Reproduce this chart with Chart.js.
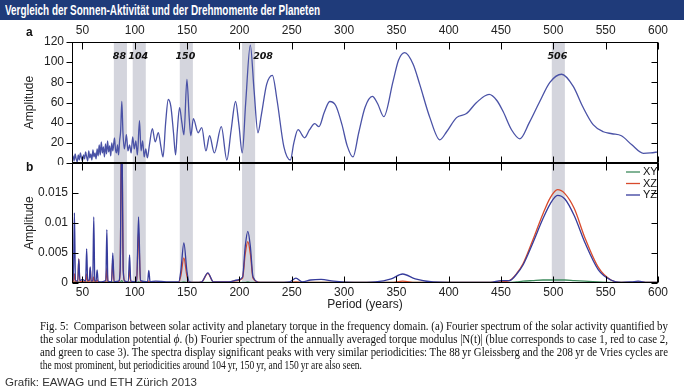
<!DOCTYPE html>
<html>
<head>
<meta charset="utf-8">
<script src="https://cdn.jsdelivr.net/npm/chart.js@4.4.1/dist/chart.umd.min.js"></script>
<style>
  body { margin:0; width:684px; height:390px; background:#fff; position:relative; overflow:hidden;
         font-family:"Liberation Sans", Arial, sans-serif; }
  #titlebar { position:absolute; left:0; top:0; width:684px; height:20px; background:#1f3b7a; }
  #title { position:absolute; left:5px; top:2px; color:#fff; font-weight:bold; font-size:14px;
           line-height:16px; white-space:nowrap; transform-origin:left top; }
  .wrap { position:absolute; left:0; }
  #wrapA { top:20px; }
  #wrapB { top:160px; }
  .plabel { position:absolute; left:26px; font-size:12px; font-weight:bold; color:#111; }
  .cap { position:absolute; left:40px; font-family:"Liberation Serif","Times New Roman",serif; font-size:11.5px;
         line-height:13px; white-space:nowrap; transform-origin:left top; color:#111; }
  #credit { position:absolute; left:5px; top:375px; font-size:11.5px; line-height:14px; color:#333;
            white-space:nowrap; transform-origin:left top; }
</style>
</head>
<body>
<div id="titlebar"><div id="title" class="fit" data-w="315">Vergleich der Sonnen-Aktivität und der Drehmomente der Planeten</div></div>
<div class="wrap" id="wrapA"><canvas id="chartA" width="684" height="145"></canvas></div>
<div class="wrap" id="wrapB"><canvas id="chartB" width="684" height="152"></canvas></div>
<div class="plabel" style="top:25px">a</div>
<div class="plabel" style="top:160px">b</div>
<div class="cap fit" data-w="628" style="top:320px">Fig. 5:&nbsp; Comparison between solar activity and planetary torque in the frequency domain. (a) Fourier spectrum of the solar activity quantified by</div>
<div class="cap fit" data-w="628" style="top:333px">the solar modulation potential <i>ϕ</i>. (b) Fourier spectrum of the annually averaged torque modulus |N(t)| (blue corresponds to case 1, red to case 2,</div>
<div class="cap fit" data-w="628" style="top:346px">and green to case 3). The spectra display significant peaks with very similar periodicities: The 88&thinsp;yr Gleissberg and the 208&thinsp;yr de Vries cycles are</div>
<div class="cap fit" data-w="322" style="top:359px">the most prominent, but periodicities around 104&thinsp;yr, 150&thinsp;yr, and 150&thinsp;yr are also seen.</div>
<div id="credit" class="fit" data-w="192">Grafik: EAWAG und ETH Zürich 2013</div>

<script>
// shared axis ticks
const periodTicks = [50, 100, 150, 200, 250, 300, 350, 400, 450, 500, 550, 600];
const ampTicksA = [0, 20, 40, 60, 80, 100, 120];
const ampTicksB = [0, 0.005, 0.01, 0.015, 0.02];
const ampLabelsB = ["0", "0.005", "0.01", "0.015", ""];

// highlighted periods (grey bands)
const bandLabels = ["88", "104", "150", "208", "506"];
const bandStart = [80, 98, 143, 202.5, 498.5];
const bandEnd = [92.5, 110.5, 155.5, 215, 511];

// (a) solar activity spectrum
const periodsA = [40, 41, 42, 43, 44, 45, 46, 47, 48, 49, 50, 51, 52, 53, 54, 55, 56, 57, 58, 59,
  60, 61, 62, 63, 64, 65, 66, 67, 68, 69, 70, 71, 72, 73, 74, 75, 76, 77, 78, 79,
  80.6, 81.5, 82.5, 83.5, 84.5, 85.5, 86.5, 87.6, 88.7, 90, 91, 92, 93.5, 95, 96.5, 98, 99.5, 101, 102.5,
  104.5, 106, 107.5, 109, 110.5, 112, 114, 116.8, 119.5, 122.5, 125, 127, 129.5, 132, 134.5, 137, 139,
  140.5, 142.8, 145, 147, 149.8, 152, 153.5, 156, 160.5, 164, 168, 171.5, 176, 182.7, 188, 192, 196.3,
  199.5, 202.7, 206, 210.4, 214, 217.7, 221, 226, 231.5, 236, 242.5, 248.7, 252, 256, 262.3, 267, 272,
  276, 281, 286.3, 292, 298, 303, 308.5, 314, 320, 327, 332, 338, 346.8, 352, 358, 366, 372.3, 382,
  391.5, 398, 407.5, 417, 426.6, 438.6, 446, 452, 460, 468, 477, 487, 496.7, 507.9, 519, 528, 538,
  547.7, 556, 565, 575, 586, 593, 600];
const amplitudeA = [3, 7, 2, 9, 4, 1, 8, 3, 10, 5, 2, 8, 4, 11, 6, 2, 12, 5, 9, 3,
  13, 6, 10, 4, 14, 7, 18, 8, 21, 10, 16, 6, 19, 9, 22, 11, 17, 7, 20, 12,
  25, 14, 10, 18, 8, 22, 32, 61, 30, 14, 20, 28, 12, 18, 10, 26, 14, 22, 8,
  42, 12, 22, 6, 14, 5, 18, 34, 21, 30, 16, 6, 40, 63, 56, 30, 8,
  30, 55, 40, 28, 83, 45, 27, 44, 30, 35, 12, 27, 10, 36, 3, 32, 61,
  38, 10, 60, 117, 72, 30, 48, 78, 87, 62, 16, 3, 20, 33, 25, 33, 39,
  36, 50, 61, 57, 38, 17, 6, 30, 55, 66, 59, 46, 81, 102, 109.5, 98, 78, 45,
  23, 31, 45, 49, 60, 68, 62, 51, 33, 24, 40, 61, 80, 88, 76, 56, 38,
  31, 29, 27, 18, 9.6, 10, 11];

// (b) torque spectra
const periodsB = [40, 41.3, 42.3, 43.3, 45.5, 46.5, 47.5, 50, 53, 54, 55, 56.5, 57.4, 58.3, 59.8, 60.8, 61.8, 63, 64, 65,
  68, 72.3, 73.3, 74.3, 77.8, 79, 80.2, 84.5, 86, 87.5, 89, 90.5, 93.8, 95, 96.2, 101.8, 103.6, 105.4, 112.2, 113.4,
  114.6, 120, 130, 142, 144, 146.9, 149.8, 152, 158, 164, 169.8, 175, 190, 198, 203, 205.5, 208, 210.5, 213, 220,
  235, 248, 254, 260, 268, 278, 290, 310, 330, 345, 356, 368, 385, 420, 440, 450, 458, 465, 471, 480,
  490, 497, 504, 511, 520, 530, 543, 555, 565, 575, 581, 590, 600];
const torqueXY = [0.0001, 0.0001, 0.0002, 0.0001, 0.0001, 0.0002, 0.0001, 0.0001, 0.0001, 0.0002, 0.0001, 0.0001, 0.0002, 0.0001, 0.0001, 0.0002, 0.0001, 0.0001, 0.0001, 0.0001,
  0.0001, 0.0001, 0.0002, 0.0001, 0.0001, 0.0002, 0.0001, 0.0001, 0.0001, 0.0004, 0.0001, 0.0001, 0.0001, 0.0002, 0.0001, 0.0001, 0.0002, 0.0001, 0.0001, 0.0001,
  0.0001, 0.0001, 0.0001, 0.0001, 0.0001, 0.0002, 0.0001, 0.0001, 0.0001, 0.0001, 0.0001, 0.0001, 0.0001, 0.0001, 0.0001, 0.0001, 0.0002, 0.0001, 0.0001, 0.0001,
  0.0001, 0.0001, 0.0001, 0.0001, 0.0001, 0.0001, 0.0001, 0.0001, 0.0001, 0.0001, 0.0001, 0.0001, 0.0001, 0.0001, 0.0001, 0.0001, 0.0001, 0.0002, 0.0003, 0.0004,
  0.0005, 0.0005, 0.0005, 0.0005, 0.0004, 0.0003, 0.0002, 0.0001, 0.0001, 0.0001, 0.0001, 0.0001, 0.0001];
const torqueXZ = [0.0003, 0.0002, 0.0015, 0.0002, 0.0002, 0.004, 0.0002, 0.0003, 0.0002, 0.0015, 0.0002, 0.0002, 0.0025, 0.0002, 0.0002, 0.001, 0.0002, 0.0002, 0.0005, 0.0002,
  0.0001, 0.0002, 0.0025, 0.0002, 0.0001, 0.004, 0.0002, 0.0002, 0.002, 0.027, 0.002, 0.0002, 0.0001, 0.0023, 0.0002, 0.0002, 0.0086, 0.0003, 0.0001, 0.0003,
  0.0001, 0.0002, 0.0001, 0.0001, 0.0012, 0.0042, 0.0012, 0.0001, 0.0001, 0.0002, 0.0016, 0.0002, 0.0002, 0.0004, 0.0008, 0.0048, 0.0069, 0.0048, 0.0008, 0.0001,
  0.0001, 0.0001, 0.0002, 0.0001, 0.0001, 0.0001, 0.0001, 0.0001, 0.0001, 0.0001, 0.0003, 0.0001, 0.0001, 0.0001, 0.0001, 0.0002, 0.0004, 0.0016, 0.0032, 0.007,
  0.0115, 0.0142, 0.01555, 0.0149, 0.0124, 0.0076, 0.0026, 0.0005, 0.0001, 0.0001, 0.0002, 0.0001, 0.0001];
const torqueYZ = [0.0008, 0.0004, 0.0117, 0.0005, 0.0003, 0.004, 0.0004, 0.0006, 0.0003, 0.0057, 0.0004, 0.0005, 0.0027, 0.0003, 0.0004, 0.011, 0.0004, 0.0003, 0.0022, 0.0003,
  0.0002, 0.0004, 0.0089, 0.0003, 0.0002, 0.005, 0.0002, 0.0003, 0.002, 0.028, 0.002, 0.0003, 0.0002, 0.0047, 0.0003, 0.0002, 0.011, 0.0004, 0.0002, 0.0021,
  0.0002, 0.0003, 0.0002, 0.0002, 0.002, 0.0067, 0.002, 0.0002, 0.0001, 0.0002, 0.0017, 0.0002, 0.0002, 0.0005, 0.001, 0.006, 0.0086, 0.006, 0.001, 0.0001,
  0.0001, 0.0002, 0.0008, 0.0002, 0.0005, 0.0006, 0.0003, 0.0001, 0.0002, 0.0007, 0.0015, 0.0007, 0.0002, 0.0001, 0.0001, 0.0004, 0.0004, 0.0015, 0.003, 0.0065,
  0.0107, 0.0132, 0.0146, 0.014, 0.0112, 0.0068, 0.0022, 0.0005, 0.0001, 0.0002, 0.0003, 0.0001, 0.0001];

Chart.defaults.font.family = '"Liberation Sans", Arial, sans-serif';
Chart.defaults.color = "#222";

function pts(xs, ys) {
  return xs.map((x, i) => ({ x: x, y: ys[i] }));
}

// fix an axis to a given thickness and stop it from pushing the plot area around
function fixSize(prop, size) {
  return s => {
    s[prop] = size;
    s.paddingTop = s.paddingBottom = s.paddingLeft = s.paddingRight = 0;
  };
}

const noGrid = { display: false, drawTicks: false };

// grey bands behind the curves, plus their labels in panel a
const bandsPlugin = {
  id: "bands",
  beforeDatasetsDraw(chart) {
    const { ctx, chartArea: a, scales: { x } } = chart;
    ctx.save();
    ctx.fillStyle = "#d4d5dd";
    for (let i = 0; i < bandStart.length; i++) {
      const x0 = x.getPixelForValue(bandStart[i]);
      const x1 = x.getPixelForValue(bandEnd[i]);
      ctx.fillRect(x0, a.top, x1 - x0, a.bottom - a.top);
    }
    ctx.restore();
  },
  afterDatasetsDraw(chart, args, opts) {
    if (!opts.labels) return;
    const { ctx, chartArea: a, scales: { x } } = chart;
    ctx.save();
    ctx.font = "italic bold 9.5px 'DejaVu Sans', sans-serif";
    ctx.fillStyle = "#111";
    ctx.textBaseline = "middle";
    for (let i = 0; i < bandLabels.length; i++) {
      const mid = x.getPixelForValue((bandStart[i] + bandEnd[i]) / 2);
      if (bandLabels[i] === "208") {
        ctx.textAlign = "left";
        ctx.fillText(bandLabels[i], x.getPixelForValue(bandEnd[i]) - 2, a.top + 15);
      } else {
        ctx.textAlign = "center";
        ctx.fillText(bandLabels[i], mid - 1, a.top + 15);
      }
    }
    ctx.restore();
  }
};

// box around the plot and the little tick marks
const framePlugin = {
  id: "frame",
  afterDatasetsDraw(chart, args, opts) {
    const { ctx, chartArea: a, scales: { x, y } } = chart;
    const L = Math.round(a.left) + 0.5, R = Math.round(a.right) - 0.5;
    const T = Math.round(a.top) + 0.5, B = Math.round(a.bottom) - 0.5;
    ctx.save();
    ctx.strokeStyle = "#000";
    ctx.lineWidth = 1;
    ctx.strokeRect(L, T, R - L, B - T);
    ctx.beginPath();
    x.ticks.forEach(t => {
      const px = Math.round(x.getPixelForValue(t.value)) + 0.5;
      ctx.moveTo(px, T); ctx.lineTo(px, T + 7);
      ctx.moveTo(px, B); ctx.lineTo(px, B - 6);
      if (opts.bottomOut) { ctx.moveTo(px, B); ctx.lineTo(px, B + 5); }
    });
    y.ticks.forEach(t => {
      const py = Math.round(y.getPixelForValue(t.value)) + 0.5;
      if (opts.leftOut) { ctx.moveTo(L, py); ctx.lineTo(L - 6, py); }
      else { ctx.moveTo(L, py); ctx.lineTo(L + 6, py); }
      ctx.moveTo(R, py); ctx.lineTo(R - 6, py);
    });
    ctx.stroke();
    ctx.restore();
  }
};

// legend inside panel b, top right
const legendPlugin = {
  id: "cornerLegend",
  afterDraw(chart, args, opts) {
    if (!opts.show) return;
    const { ctx, chartArea: a } = chart;
    ctx.save();
    ctx.font = "11px 'Liberation Sans', Arial, sans-serif";
    ctx.textAlign = "left";
    ctx.textBaseline = "middle";
    chart.data.datasets.forEach((ds, i) => {
      const yy = a.top + 9 + i * 11.5;
      ctx.strokeStyle = ds.borderColor;
      ctx.lineWidth = 1.3;
      ctx.beginPath();
      ctx.moveTo(a.right - 32, yy);
      ctx.lineTo(a.right - 18, yy);
      ctx.stroke();
      ctx.fillStyle = "#111";
      ctx.fillText(ds.label, a.right - 15, yy);
    });
    ctx.restore();
  }
};

const chartA = new Chart(document.getElementById("chartA"), {
  type: "line",
  data: {
    datasets: [{
      label: "Solar activity",
      data: pts(periodsA, amplitudeA),
      borderColor: "#4a52a6",
      borderWidth: 1.3,
      pointRadius: 0,
      cubicInterpolationMode: "monotone"
    }]
  },
  options: {
    responsive: false,
    animation: false,
    layout: { padding: { left: 22, right: 26, top: 0, bottom: 2 } },
    plugins: {
      legend: { display: false },
      tooltip: { enabled: false },
      bands: { labels: true },
      frame: { leftOut: true, bottomOut: true },
      cornerLegend: { show: false }
    },
    scales: {
      x: {
        type: "linear", position: "top", min: 40, max: 600,
        afterBuildTicks: s => { s.ticks = periodTicks.map(v => ({ value: v })); },
        afterFit: fixSize("height", 22),
        grid: noGrid, border: { display: false },
        ticks: { font: { size: 12 }, padding: 4, maxRotation: 0, autoSkip: false }
      },
      y: {
        min: 0, max: 120,
        afterBuildTicks: s => { s.ticks = ampTicksA.map(v => ({ value: v })); },
        afterFit: fixSize("width", 50),
        title: { display: true, text: "Amplitude", font: { size: 12 }, padding: { top: 0, bottom: 0 } },
        grid: noGrid, border: { display: false },
        ticks: { font: { size: 12 }, padding: 8 }
      }
    }
  },
  plugins: [bandsPlugin, framePlugin, legendPlugin]
});

const chartB = new Chart(document.getElementById("chartB"), {
  type: "line",
  data: {
    datasets: [
      { label: "XY", data: pts(periodsB, torqueXY), borderColor: "#3d8a5c", order: 2 },
      { label: "XZ", data: pts(periodsB, torqueXZ), borderColor: "#d84a2c", order: 1 },
      { label: "YZ", data: pts(periodsB, torqueYZ), borderColor: "#363c9c", order: 0 }
    ].map(d => Object.assign(d, { borderWidth: 1.3, pointRadius: 0, cubicInterpolationMode: "monotone" }))
  },
  options: {
    responsive: false,
    animation: false,
    layout: { padding: { left: 22, right: 26, top: 3, bottom: 0 } },
    plugins: {
      legend: { display: false },
      tooltip: { enabled: false },
      bands: { labels: false },
      frame: { leftOut: false, bottomOut: false },
      cornerLegend: { show: true }
    },
    scales: {
      x: {
        type: "linear", position: "bottom", min: 40, max: 600,
        afterBuildTicks: s => { s.ticks = periodTicks.map(v => ({ value: v })); },
        afterFit: fixSize("height", 29),
        title: { display: true, text: "Period (years)", font: { size: 12 }, padding: { top: 0, bottom: 0 } },
        grid: noGrid, border: { display: false },
        ticks: { font: { size: 12 }, padding: 2, maxRotation: 0, autoSkip: false }
      },
      y: {
        min: 0, max: 0.02,
        afterBuildTicks: s => { s.ticks = ampTicksB.map(v => ({ value: v })); },
        afterFit: fixSize("width", 50),
        title: { display: true, text: "Amplitude", font: { size: 12 }, padding: { top: 0, bottom: 0 } },
        grid: noGrid, border: { display: false },
        ticks: { font: { size: 12 }, padding: 4, callback: (v, i) => ampLabelsB[i] }
      }
    }
  },
  plugins: [bandsPlugin, framePlugin, legendPlugin]
});

// squeeze the text blocks to the widths they have in the original graphic
document.querySelectorAll(".fit").forEach(el => {
  const w = el.getBoundingClientRect().width;
  el.style.transform = "scaleX(" + (parseFloat(el.dataset.w) / w) + ")";
});
</script>
</body>
</html>
